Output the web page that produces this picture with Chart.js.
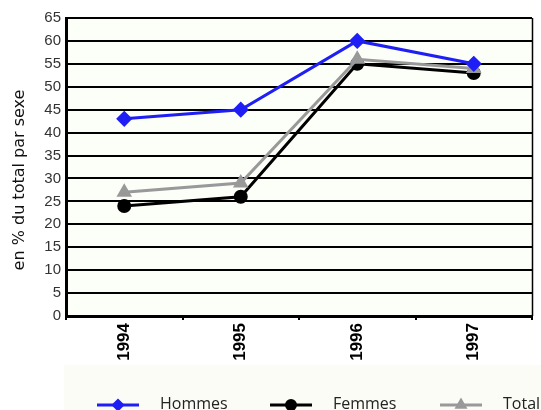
<!DOCTYPE html>
<html>
<head>
<meta charset="utf-8">
<script src="https://cdn.jsdelivr.net/npm/chart.js@4/dist/chart.umd.min.js"></script>
<style>
  html, body { margin: 0; padding: 0; background: #ffffff; overflow: hidden; }
  #wrap { width: 541px; height: 410px; position: relative; }
</style>
</head>
<body>
<div id="wrap"><canvas id="c" width="541" height="410"></canvas></div>
<script>
// Part des sexes, en % du total
const years = ['1994', '1995', '1996', '1997'];
const hommes = [43, 45, 60, 55];
const femmes = [24, 26, 55, 53];
const total = [27, 29, 56, 54];
const yTicks = { min: 0, max: 65, step: 5 };
const axisTitle = 'en % du total par sexe';

// Fond clair de la zone de tracé, bordure droite et titre vertical
const plotFrame = {
  id: 'plotFrame',
  beforeDraw(chart) {
    const { ctx, chartArea: a } = chart;
    ctx.save();
    ctx.fillStyle = '#fcfef8';
    ctx.fillRect(a.left, a.top, a.right - a.left, a.bottom - a.top);
    ctx.restore();
  },
  afterDraw(chart) {
    const { ctx, chartArea: a } = chart;
    ctx.save();
    ctx.strokeStyle = '#000';
    ctx.lineWidth = 1.5;
    ctx.beginPath();
    ctx.moveTo(a.right + 0.5, a.top);
    ctx.lineTo(a.right + 0.5, a.bottom);
    ctx.stroke();

    ctx.translate(19.5, 180);
    ctx.rotate(-Math.PI / 2);
    ctx.fillStyle = '#111';
    ctx.font = '16px "DejaVu Sans", sans-serif';
    ctx.textAlign = 'center';
    ctx.textBaseline = 'middle';
    ctx.fillText(axisTitle, 0, 0);
    ctx.restore();
  }
};

// Légende en bas : trait + marqueur + libellé
const stripLegend = {
  id: 'stripLegend',
  afterDraw(chart) {
    const { ctx } = chart;
    ctx.save();
    ctx.fillStyle = '#fafcf5';
    ctx.fillRect(64, 365, chart.width - 64, chart.height - 365);
    const xs = [97, 270, 440];
    const y = 405;
    chart.data.datasets.forEach((ds, i) => {
      const x0 = xs[i];
      ctx.strokeStyle = ds.borderColor;
      ctx.lineWidth = 3;
      ctx.beginPath();
      ctx.moveTo(x0, y);
      ctx.lineTo(x0 + 42, y);
      ctx.stroke();
      ctx.fillStyle = ds.pointBackgroundColor;
      ctx.strokeStyle = ds.pointBorderColor;
      Chart.helpers.drawPoint(ctx, {
        pointStyle: ds.pointStyle, radius: 4.5, rotation: 0, borderWidth: 1
      }, x0 + 21, y);
      ctx.fillStyle = '#222';
      ctx.font = '16px "Open Sans", sans-serif';
      ctx.textBaseline = 'alphabetic';
      ctx.textAlign = 'left';
      ctx.fillText(ds.label, x0 + 63, 409);
    });
    ctx.restore();
  }
};

const mk = (label, data, color, style, radius, order) => ({
  label, data, order,
  borderColor: color,
  backgroundColor: color,
  pointBackgroundColor: color,
  pointBorderColor: color,
  pointStyle: style,
  pointRadius: radius,
  pointHoverRadius: radius,
  borderWidth: 3,
  tension: 0
});

new Chart(document.getElementById('c'), {
  type: 'line',
  data: {
    labels: years,
    datasets: [
      mk('Hommes', hommes, '#1e1ef5', 'rectRot', 6, 0),
      mk('Femmes', femmes, '#000000', 'circle', 5.5, 2),
      mk('Total', total, '#999999', 'triangle', 6, 1)
    ]
  },
  options: {
    responsive: false,
    animation: false,
    devicePixelRatio: 1,
    layout: { padding: { left: 0, right: 3, top: 18, bottom: 47 } },
    plugins: { legend: { display: false }, tooltip: { enabled: false } },
    scales: {
      x: {
        offset: true,
        afterFit(s) { s.height = 47; },
        grid: { display: true, drawOnChartArea: false, drawTicks: true, tickLength: 4, offset: true, color: '#000', lineWidth: 2 },
        border: { display: true, color: '#000', width: 3 },
        ticks: {
          minRotation: 90, maxRotation: 90, padding: 3,
          color: '#000',
          font: { family: '"Liberation Sans", sans-serif', size: 17, weight: 'bold' }
        }
      },
      y: {
        min: yTicks.min, max: yTicks.max,
        afterFit(s) { s.width = 66; },
        grid: { color: '#000', lineWidth: 2, drawTicks: false },
        border: { display: true, color: '#000', width: 3 },
        ticks: {
          stepSize: yTicks.step, padding: 5, color: '#333',
          font: { family: '"Liberation Sans", sans-serif', size: 15 }
        }
      }
    }
  },
  plugins: [plotFrame, stripLegend]
});
</script>
</body>
</html>
